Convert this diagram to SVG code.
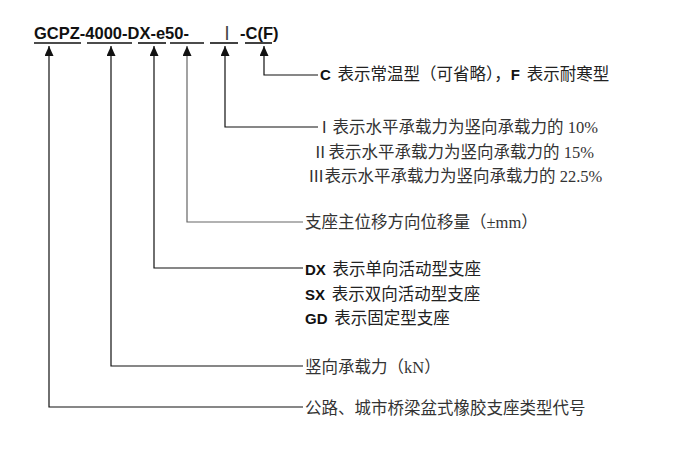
<svg xmlns="http://www.w3.org/2000/svg" width="698" height="462" viewBox="0 0 698 462">
<style>
.t{font-family:"Noto Sans CJK SC","Liberation Sans",sans-serif;font-size:16.5px;fill:#222;word-spacing:3px}
.b{font-family:"Liberation Sans","Noto Sans CJK SC",sans-serif;font-size:15px;font-weight:bold;fill:#111}
.s{font-family:"Liberation Serif","Noto Sans CJK SC",serif;font-size:16.5px;fill:#333}
.h{font-family:"Liberation Sans",sans-serif;font-size:16.5px;font-weight:bold;fill:#111}
.l{fill:none;stroke:#111;stroke-width:1.2}
</style>
<defs><marker id="a" markerWidth="10" markerHeight="9" refX="10" refY="4.5" orient="auto-start-reverse" markerUnits="userSpaceOnUse" viewBox="0 0 10 9"><path d="M0 0L10 4.5L0 9Z" fill="#111"/></marker></defs>
<rect width="698" height="462" fill="#fff"/>
<g id="title">
<text class="h" x="34" y="39">GCPZ-4000-DX-e50-</text>
<text x="218" y="40" font-family="Noto Sans CJK SC,sans-serif" font-size="18" fill="#444">Ⅰ</text>
<text class="h" x="240" y="39">-C(F)</text>
<g stroke="#111" stroke-width="1.6"><line x1="34" y1="43" x2="81" y2="43"/><line x1="87" y1="43" x2="132" y2="43"/><line x1="138" y1="43" x2="166" y2="43"/><line x1="170" y1="43" x2="204" y2="43"/><line x1="210" y1="43" x2="238" y2="43"/><line x1="245" y1="43" x2="272" y2="43"/></g>
</g>
<g id="connectors">
<path class="l" marker-start="url(#a)" d="M49 46V407H303"/>
<path class="l" marker-start="url(#a)" d="M111 46V366H303"/>
<path class="l" marker-start="url(#a)" d="M154 46V268H303"/>
<path class="l" marker-start="url(#a)" style="stroke:#666" d="M187 46V222H303"/>
<path class="l" marker-start="url(#a)" d="M225 46V127H318"/>
<path class="l" marker-start="url(#a)" d="M264 46V75H318"/>
</g>
<g id="n1"><text class="t" x="320" y="80"><tspan class="b">C</tspan> 表示常温型（可省略），<tspan class="b">F</tspan> 表示耐寒型</text></g>
<g id="n2">
<text class="s" x="316" y="133">Ⅰ表示水平承载力为竖向承载力的 10%</text>
<text class="s" x="312" y="158">Ⅱ表示水平承载力为竖向承载力的 15%</text>
<text class="s" x="308" y="182">Ⅲ表示水平承载力为竖向承载力的 22.5%</text>
</g>
<g id="n3"><text class="s" x="305" y="228">支座主位移方向位移量（±mm）</text></g>
<g id="n4">
<text class="t" x="305" y="275"><tspan class="b">DX</tspan> 表示单向活动型支座</text>
<text class="t" x="305" y="300"><tspan class="b">SX</tspan> 表示双向活动型支座</text>
<text class="t" x="305" y="324"><tspan class="b">GD</tspan> 表示固定型支座</text>
</g>
<g id="n5"><text class="s" x="305" y="373">竖向承载力（kN）</text></g>
<g id="n6"><text class="s" x="305" y="414">公路、城市桥梁盆式橡胶支座类型代号</text></g>
</svg>
